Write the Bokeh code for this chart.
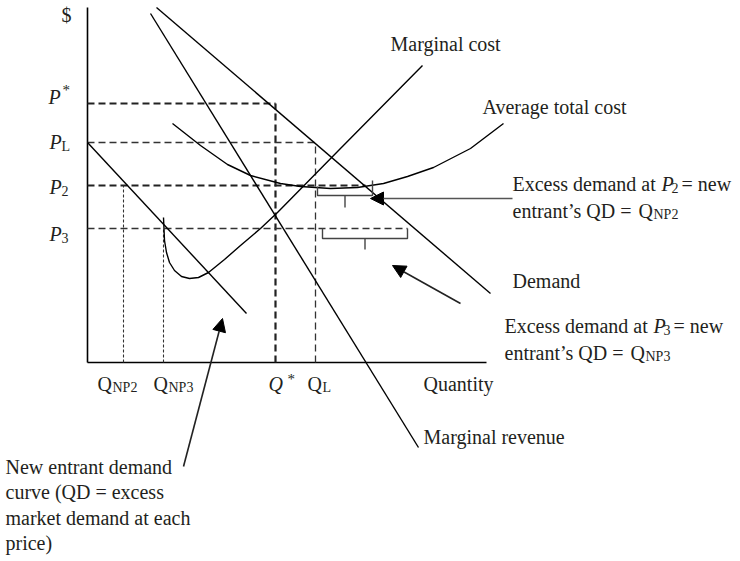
from bokeh.plotting import figure
from bokeh.models import Range1d, Arrow, NormalHead
from bokeh.core.properties import value
from bokeh.embed import file_html
from bokeh.resources import INLINE

# ---- data (quantity on x, price on y, diagram units) ----
P_STAR, P_L, P_2, P_3 = 259, 220, 177, 134
Q_NP2, Q_NP3, Q_STAR, Q_L = 36, 76, 188, 228
AXIS_Q_MAX, AXIS_P_MAX = 399, 355

demand_q = [69, 403]
demand_p = [355, 69]
mr_q = [63, 331]
mr_p = [349, -85]
entrant_q = [0, 159]
entrant_p = [220, 49]
mc_q = [76, 77, 79, 82, 87, 94, 102, 111, 121, 137, 153, 173, 190, 251, 335]
mc_p = [145, 122, 110, 100, 92, 86, 84, 85, 90, 103, 117, 134, 150, 212, 297]
atc_q = [85, 113, 140, 163, 193, 213, 243, 270, 296, 320, 346, 383, 416]
atc_p = [239, 217, 198, 187, 179, 176, 174, 175, 179, 186, 195, 214, 239]

P2_GUIDE_END = 278
P3_GUIDE_END = 320

# braces: [left q, right q], levels of left top, bottom, right top, tick end
brace2_q = [230, 285]
brace2_p = [176, 167, 182, 155]
brace3_q = [235, 320]
brace3_p = [134, 124, 134, 113]

INK = "#231f20"
FONT = "Liberation Serif"
SIZE = "20px"
SUB = "14px"
TEXT_DY = 7

p = figure(width=740, height=561, x_range=Range1d(-87, 653), y_range=Range1d(-199, 362),
           output_backend="svg", toolbar_location=None, min_border=0,
           x_axis_type=None, y_axis_type=None)
p.grid.visible = False
p.outline_line_color = None
p.background_fill_color = "white"
p.border_fill_color = "white"

# axes
p.line([0, 0], [0, AXIS_P_MAX], line_color="black", line_width=1.6)
p.line([0, AXIS_Q_MAX], [0, 0], line_color="black", line_width=1.6)

# guides
heavy = dict(line_color="#222222", line_width=2.2, line_dash="7 4")
light = dict(line_color="#333333", line_width=1.3, line_dash="7 4")
dotted = dict(line_color="#333333", line_width=1.1, line_dash="3 2")
p.line([0, Q_STAR], [P_STAR, P_STAR], **heavy)
p.line([Q_STAR, Q_STAR], [0, P_STAR], **heavy)
p.line([0, Q_L], [P_L, P_L], **light)
p.line([Q_L, Q_L], [0, P_L], **light)
p.line([0, P2_GUIDE_END], [P_2, P_2], **heavy)
p.line([0, P3_GUIDE_END], [P_3, P_3], **light)
p.line([Q_NP2, Q_NP2], [0, P_2], **dotted)
p.line([Q_NP3, Q_NP3], [0, P_3], **dotted)

# curves
curve = dict(line_color="black", line_width=1.4)
p.line(demand_q, demand_p, **curve)
p.line(mr_q, mr_p, **curve)
p.line(entrant_q, entrant_p, **curve)
p.line(mc_q, mc_p, **curve)
p.line(atc_q, atc_p, **curve)

# braces
for bq, bp in ((brace2_q, brace2_p), (brace3_q, brace3_p)):
    p.line([bq[0], bq[0], bq[1], bq[1]], [bp[0], bp[1], bp[1], bp[2]],
           line_color="#444444", line_width=1.4)
    mid = (bq[0] + bq[1]) / 2
    p.line([mid, mid], [bp[1], bp[3]], line_color="#444444", line_width=1.4)

# arrows
arrows = [((425, 164), (283, 164), "#555555"),
          ((373, 59), (305, 97), "#222222"),
          ((96, -104), (135, 44), "#222222")]
for (x0, y0), (x1, y1), col in arrows:
    p.add_layout(Arrow(end=NormalHead(size=13, fill_color="black", line_color="black"),
                       x_start=x0, y_start=y0, x_end=x1, y_end=y1,
                       line_color=col, line_width=1.6))


def txt(x, y, s, size=SIZE, style="normal", align="left"):
    p.text(x=[x], y=[y + TEXT_DY], text=[s], text_font=value(FONT),
           text_font_size=value(size), text_font_style=style, text_align=align,
           text_baseline="alphabetic", text_color=INK)


# vertical axis labels
txt(-21, 341, "$", align="center")
txt(-39, 259, "P", style="italic")
txt(-25, 266, "*", size="15px")
txt(-38, 214, "P", style="italic")
txt(-26, 209, "L", size=SUB)
txt(-38, 169, "P", style="italic")
txt(-26, 165, "2", size=SUB)
txt(-38, 122, "P", style="italic")
txt(-26, 118, "3", size=SUB)

# horizontal axis labels
txt(10, -28, "Q")
txt(25, -32, "NP2", size=SUB)
txt(66, -28, "Q")
txt(81, -32, "NP3", size=SUB)
txt(181, -28, "Q", style="italic")
txt(200, -23, "*", size="15px")
txt(220, -28, "Q")
txt(235, -32, "L", size=SUB)
txt(336, -28, "Quantity")

# curve labels
txt(336, -81, "Marginal revenue")
txt(303, 312, "Marginal cost")
txt(395, 249, "Average total cost")
txt(425, 75, "Demand")

# excess demand at P2
txt(425, 172, "Excess demand at ")
txt(574, 172, "P", style="italic")
txt(584, 168, "2", size=SUB)
txt(594, 172, "= new")
txt(425, 145, "entrant\u2019s QD = ")
txt(551, 145, "Q")
txt(566, 141, "NP2", size=SUB)

# excess demand at P3
txt(417, 30, "Excess demand at ")
txt(566, 30, "P", style="italic")
txt(576, 26, "3", size=SUB)
txt(586, 30, "= new")
txt(417, 3, "entrant\u2019s QD = ")
txt(543, 3, "Q")
txt(558, -1, "NP3", size=SUB)

# new entrant note
for i, line in enumerate(["New entrant demand", "curve (QD = excess",
                          "market demand at each", "price)"]):
    txt(-82, -111 - 25.5 * i, line)

open("out.html", "w").write(file_html(p, INLINE))
